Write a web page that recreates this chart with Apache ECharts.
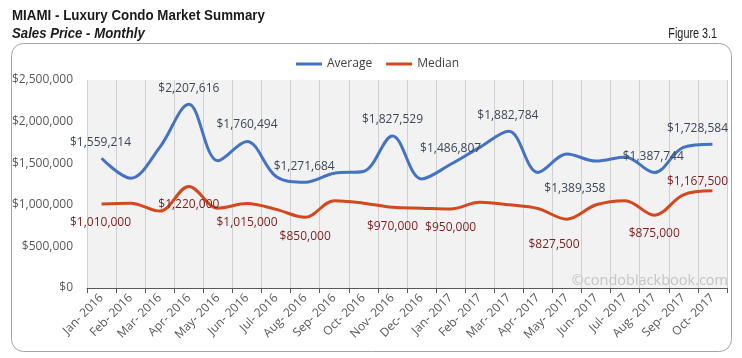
<!DOCTYPE html>
<html>
<head>
<meta charset="utf-8">
<script src="https://cdn.jsdelivr.net/npm/echarts@6/dist/echarts.min.js"></script>
<style>
html,body{margin:0;padding:0;background:#fff;}
#chart{width:742px;height:358px;}
</style>
</head>
<body>
<div id="chart"></div>
<script>
const categories = ['Jan- 2016','Feb- 2016','Mar- 2016','Apr- 2016','May- 2016','Jun- 2016','Jul- 2016','Aug- 2016','Sep- 2016','Oct- 2016','Nov- 2016','Dec- 2016','Jan- 2017','Feb- 2017','Mar- 2017','Apr- 2017','May- 2017','Jun- 2017','Jul- 2017','Aug- 2017','Sep- 2017','Oct- 2017'];
const averageValues = [1559214,1320000,1690000,2207616,1530000,1760494,1340000,1271684,1380000,1400000,1827529,1310000,1486807,1690000,1882784,1389358,1610000,1525000,1575000,1387744,1690000,1728584];
const medianValues = [1010000,1020000,925000,1220000,960000,1015000,945000,850000,1050000,1020000,970000,960000,950000,1030000,1000000,955000,827500,1000000,1050000,875000,1120000,1167500];
const yTicks = [0,500000,1000000,1500000,2000000,2500000];
const averageLabelIdx = [0,3,5,7,10,12,14,15,19,21];
const medianLabelIdx = [0,3,5,7,10,12,16,19,21];

// label placement (style only)
const avgLabelOffset = {0:[-1,-16],3:[0,-16],5:[0,-17],7:[-1,-16],10:[0,-16],12:[0,-16],14:[-1,-16],15:[37,16],19:[-1,-16],21:[-15,-16]};
const medLabelOffset = {0:[-1,19],3:[0,18],5:[0,19],7:[0,19],10:[0,19],12:[0,19],16:[-13,25],19:[0,18],21:[-15,-9]};

const fmt = v => '$' + Number(v).toLocaleString('en-US');

function buildData(values, idx, offsets, color) {
  return values.map((v, i) => {
    if (idx.indexOf(i) < 0) return v;
    return {
      value: v,
      label: {
        show: true, position: 'inside', offset: offsets[i],
        formatter: p => fmt(p.value), color: color,
        fontFamily: 'Open Sans', fontSize: 12
      }
    };
  });
}

const chart = echarts.init(document.getElementById('chart'), null, {renderer: 'canvas'});
const font = 'Open Sans';
const headFont = "'Liberation Sans', Arial, sans-serif";
chart.setOption({
  animation: false,
  backgroundColor: '#ffffff',
  graphic: [
    {type: 'rect', z: -10, shape: {x: 11.5, y: 43.5, width: 720, height: 308, r: 12},
     style: {fill: '#ffffff', stroke: '#a6a6a6', lineWidth: 1}},
    {type: 'text', x: 12, y: 16, scaleX: 0.89, z: 100,
     style: {text: 'MIAMI - Luxury Condo Market Summary', fill: '#1a1a1a', font: "bold 15px " + headFont, textVerticalAlign: 'middle', textAlign: 'left'}},
    {type: 'text', x: 12, y: 34, scaleX: 0.88, z: 100,
     style: {text: 'Sales Price - Monthly', fill: '#1a1a1a', font: "italic bold 15px " + headFont, textVerticalAlign: 'middle', textAlign: 'left'}},
    {type: 'text', x: 717, y: 34, scaleX: 0.72, z: 100,
     style: {text: 'Figure 3.1', fill: '#1a1a1a', font: "15px " + headFont, textVerticalAlign: 'middle', textAlign: 'right'}},
    {type: 'text', x: 728, y: 281, z: 100,
     style: {text: '\u00a9condoblackbook.com', fill: '#c4c4c4', font: "14.5px 'Open Sans'", textVerticalAlign: 'middle', textAlign: 'right'}}
  ],
  legend: {
    left: 291, top: 53, itemWidth: 26, itemHeight: 3, itemGap: 14, icon: 'rect',
    textStyle: {fontFamily: font, fontSize: 12, color: '#404040'},
    data: ['Average', 'Median']
  },
  grid: {left: 87, right: 15, top: 80, bottom: 70, show: true, backgroundColor: '#f2f2f2', borderWidth: 0},
  xAxis: {
    type: 'category', data: categories, boundaryGap: true,
    axisLine: {show: true, lineStyle: {color: '#595959', width: 1}},
    axisTick: {show: true, length: 5, alignWithLabel: false, lineStyle: {color: '#595959'}},
    axisLabel: {rotate: 45, interval: 0, fontFamily: font, fontSize: 12, color: '#595959', margin: 8},
    splitLine: {show: true, interval: 0, lineStyle: {color: '#d0d0d0', width: 1}}
  },
  yAxis: {
    type: 'value', min: yTicks[0], max: yTicks[yTicks.length - 1], interval: yTicks[1] - yTicks[0],
    axisLine: {show: false}, axisTick: {show: false}, splitLine: {show: false},
    axisLabel: {formatter: v => fmt(v), fontFamily: font, fontSize: 12, color: '#595959', margin: 14}
  },
  series: [
    {name: 'Average', type: 'line', smooth: 0.35, showSymbol: true, symbol: 'circle', symbolSize: 0,
     lineStyle: {color: '#4472C4', width: 3}, itemStyle: {color: '#4472C4'},
     data: buildData(averageValues, averageLabelIdx, avgLabelOffset, '#3d4757')},
    {name: 'Median', type: 'line', smooth: 0.35, showSymbol: true, symbol: 'circle', symbolSize: 0,
     lineStyle: {color: '#D4481D', width: 3}, itemStyle: {color: '#D4481D'},
     data: buildData(medianValues, medianLabelIdx, medLabelOffset, '#7d1d1d')}
  ]
});
</script>
</body>
</html>
